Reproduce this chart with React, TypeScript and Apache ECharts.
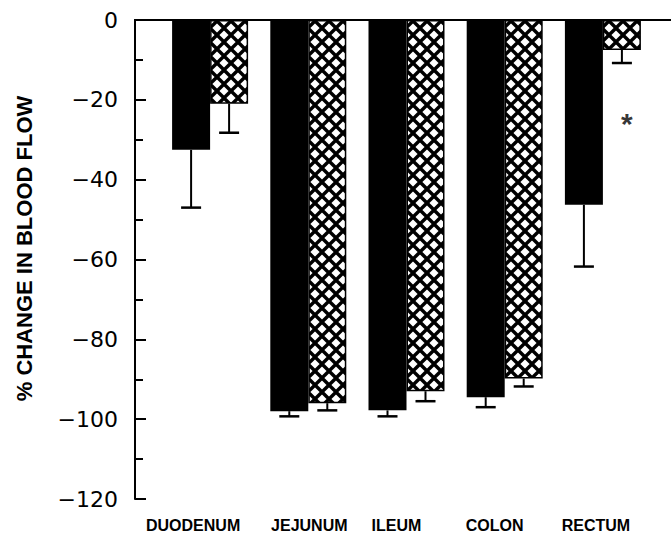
import React, { useEffect, useRef } from "react";
import * as echarts from "echarts";

const categories = ["DUODENUM", "JEJUNUM", "ILEUM", "COLON", "RECTUM"];
const controlValues = [-32.6, -98.2, -98.0, -94.7, -46.4];
const controlErrors = [-47.1, -99.5, -99.5, -97.2, -61.9];
const treatedValues = [-21.0, -96.2, -93.2, -90.0, -7.5];
const treatedErrors = [-28.3, -98.0, -95.7, -92.0, -10.8];
const asteriskPoint = [4, -24];
const yTicks = [0, -20, -40, -60, -80, -100, -120];

// label horizontal nudges (px, negative = left) – style only
const labelNudge = [-17, 1, -10, -10, -7];

const BAR_W = 38;
const TILE = 14;

function makeHatch(): HTMLCanvasElement {
  const c = document.createElement("canvas");
  c.width = TILE;
  c.height = TILE;
  const ctx = c.getContext("2d")!;
  ctx.fillStyle = "#fff";
  ctx.fillRect(0, 0, TILE, TILE);
  ctx.strokeStyle = "#000";
  ctx.lineWidth = 3.4;
  for (const off of [-TILE, 0, TILE]) {
    ctx.beginPath();
    ctx.moveTo(off, 0);
    ctx.lineTo(off + TILE, TILE);
    ctx.stroke();
    ctx.beginPath();
    ctx.moveTo(off, TILE);
    ctx.lineTo(off + TILE, 0);
    ctx.stroke();
  }
  return c;
}

export default function App() {
  const ref = useRef<HTMLDivElement>(null);
  useEffect(() => {
    if (!ref.current) return;
    const chart = echarts.init(ref.current, null, { renderer: "svg" });
    const hatch = makeHatch();

    const errSeries = (vals: number[], errs: number[], side: number, name: string) => ({
      name,
      type: "custom",
      xAxisIndex: 2,
      yAxisIndex: 1,
      z: 5,
      data: vals.map((v, i) => [i, v, errs[i]]),
      renderItem: (params: any, api: any) => {
        const i = api.value(0);
        const top = api.coord([i, api.value(1)]);
        const bot = api.coord([i, api.value(2)]);
        const x = top[0] + side * (BAR_W / 2);
        return {
          type: "group",
          children: [
            {
              type: "line",
              shape: { x1: x, y1: top[1], x2: x, y2: bot[1] },
              style: { stroke: "#000", lineWidth: 2 },
            },
            {
              type: "line",
              shape: { x1: x - 10, y1: bot[1], x2: x + 10, y2: bot[1] },
              style: { stroke: "#000", lineWidth: 2.5 },
            },
          ],
        };
      },
    });

    const catData = categories.map((c, i) => {
      const n = labelNudge[i];
      return {
        value: c,
        textStyle: {
          padding: n < 0 ? [0, -2 * n, 0, 0] : [0, 0, 0, 2 * n],
        },
      };
    });

    chart.setOption({
      animation: false,
      backgroundColor: "#fff",
      grid: [
        { left: 135, right: 0, top: 20, bottom: 34 },
        { left: 161, width: 491, top: 20, bottom: 34 },
      ],
      xAxis: [
        {
          type: "value",
          gridIndex: 0,
          position: "bottom",
          min: 0,
          max: 1,
          axisLine: { show: true, lineStyle: { color: "#000", width: 2 } },
          axisTick: { show: false },
          axisLabel: { show: false },
          splitLine: { show: false },
        },
        {
          type: "value",
          gridIndex: 0,
          position: "top",
          min: 0,
          max: 1,
          axisLine: { show: true, lineStyle: { color: "#000", width: 2 } },
          axisTick: { show: false },
          axisLabel: { show: false },
          splitLine: { show: false },
        },
        {
          type: "category",
          gridIndex: 1,
          data: catData,
          position: "bottom",
          axisLine: { show: false },
          axisTick: { show: false },
          axisLabel: {
            interval: 0,
            color: "#000",
            fontFamily: "Liberation Sans",
            fontWeight: "bold",
            fontSize: 16,
            margin: 19,
          },
        },
      ],
      yAxis: [
        {
          type: "value",
          gridIndex: 0,
          min: -120,
          max: 0,
          interval: 20,
          name: "% CHANGE IN BLOOD FLOW",
          nameLocation: "middle",
          nameGap: 100,
          nameRotate: 90,
          nameTextStyle: {
            color: "#000",
            fontFamily: "Liberation Sans",
            fontWeight: "bold",
            fontSize: 22,
            padding: [0, 0, 0, 22],
          },
          axisLine: { show: true, lineStyle: { color: "#000", width: 2 } },
          axisTick: { show: true, inside: true, length: 11, lineStyle: { color: "#000", width: 2 } },
          minorTick: { show: true, splitNumber: 2, length: 8, lineStyle: { color: "#000", width: 2 } },
          axisLabel: {
            color: "#000",
            fontFamily: "DejaVu Sans",
            fontSize: 22,
            margin: 17,
            formatter: (v: number) => (yTicks.includes(v) ? String(v).replace("-", "\u2212") : ""),
          },
          splitLine: { show: false },
        },
        {
          type: "value",
          gridIndex: 1,
          min: -120,
          max: 0,
          show: false,
        },
      ],
      series: [
        {
          name: "Control",
          type: "bar",
          xAxisIndex: 2,
          yAxisIndex: 1,
          data: controlValues,
          barWidth: BAR_W,
          barGap: "0%",
          itemStyle: { color: "#000" },
        },
        {
          name: "Treated",
          type: "bar",
          xAxisIndex: 2,
          yAxisIndex: 1,
          data: treatedValues,
          barWidth: BAR_W,
          barGap: "0%",
          itemStyle: {
            color: { image: hatch, repeat: "repeat" },
            borderColor: "#000",
            borderWidth: 1.5,
          },
        },
        errSeries(controlValues, controlErrors, -1, "ControlErr"),
        errSeries(treatedValues, treatedErrors, 1, "TreatedErr"),
        {
          name: "Significance",
          type: "scatter",
          xAxisIndex: 2,
          yAxisIndex: 1,
          symbol: "circle",
          symbolSize: 1,
          itemStyle: { color: "rgba(0,0,0,0)" },
          data: [asteriskPoint],
          label: {
            show: true,
            formatter: "*",
            position: "inside",
            offset: [BAR_W / 2 + 5, 8],
            color: "#000",
            fontFamily: "Liberation Sans",
            fontWeight: "bold",
            fontSize: 30,
          },
        },
      ],
    });
    return () => chart.dispose();
  }, []);
  return <div ref={ref} style={{ width: 671, height: 533, position: "absolute", left: 0, top: 0 }} />;
}
